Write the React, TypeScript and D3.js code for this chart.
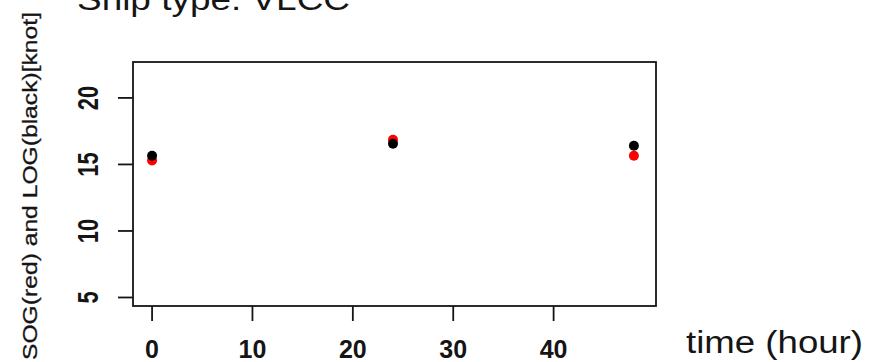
import React from 'react';
import * as d3 from 'd3';

// readings of the scatter (hours, knots)
const hours = [0, 24, 48];
const sogRed = [15.3, 16.85, 15.65];
const logBlack = [15.65, 16.55, 16.4];
const xTicks = [0, 10, 20, 30, 40];
const yTicks = [5, 10, 15, 20];

const W = 869;
const H = 362;
// plot box
const box = {left: 133, right: 656, top: 62, bottom: 306};

const App = () => {
    const x = d3.scaleLinear().domain([-1.9, 50.2]).range([box.left, box.right]);
    const y = d3.scaleLinear().domain([4.36, 22.7]).range([box.bottom, box.top]);
    const font = 'Liberation Sans, Arial, sans-serif';
    const ink = '#151515';

    return (
        <svg width={W} height={H} style={{position: 'absolute', left: 0, top: 0, background: '#fff'}}>
            {/* title, cut off at top like the original */}
            <text x={77} y={10} fontFamily={font} fontSize={31} fill={ink}
                  textLength={273} lengthAdjust="spacingAndGlyphs">Ship type: VLCC</text>

            {/* y label */}
            <text transform={`translate(37, 186) rotate(-90)`} textAnchor="middle" fontFamily={font}
                  fontSize={21} fill={ink} stroke={ink} strokeWidth={0.3}
                  textLength={348} lengthAdjust="spacingAndGlyphs">
                SOG(red) and LOG(black)[knot]
            </text>

            {/* x label */}
            <text x={686} y={353} fontFamily={font} fontSize={31} fill={ink}
                  textLength={177} lengthAdjust="spacingAndGlyphs">time (hour)</text>

            <rect x={box.left} y={box.top} width={box.right - box.left} height={box.bottom - box.top}
                  fill="none" stroke={ink} strokeWidth={1.8}/>

            {yTicks.map(t => (
                <g key={'y' + t}>
                    <line x1={box.left - 15} x2={box.left} y1={y(t)} y2={y(t)} stroke={ink} strokeWidth={1.8}/>
                    <text transform={`translate(98, ${y(t)}) rotate(-90) scale(1, 1.35)`} textAnchor="middle"
                          fontFamily={font} fontWeight="bold" fontSize={22} fill={ink}>{t}</text>
                </g>
            ))}

            {xTicks.map(t => (
                <g key={'x' + t}>
                    <line x1={x(t)} x2={x(t)} y1={box.bottom} y2={box.bottom + 15} stroke={ink} strokeWidth={1.8}/>
                    <text x={x(t)} y={358} textAnchor="middle" fontFamily={font} fontWeight="bold"
                          fontSize={25} fill={ink}>{t}</text>
                </g>
            ))}

            {hours.map((h, i) => (
                <circle key={'r' + i} cx={x(h)} cy={y(sogRed[i])} r={5} fill="#ff0000"/>
            ))}
            {hours.map((h, i) => (
                <circle key={'b' + i} cx={x(h)} cy={y(logBlack[i])} r={5} fill="#000"/>
            ))}
        </svg>
    );
};

export default App;
